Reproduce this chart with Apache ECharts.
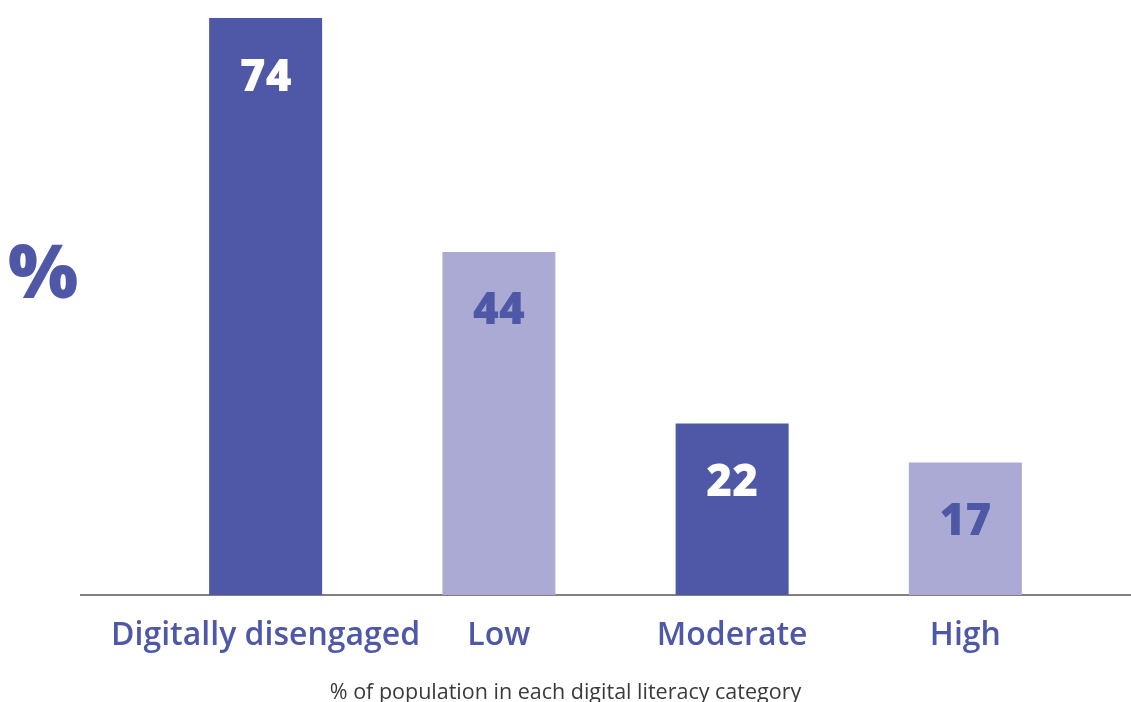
<!DOCTYPE html>
<html>
<head>
<meta charset="utf-8">
<script src="https://cdn.jsdelivr.net/npm/echarts@6/dist/echarts.min.js"></script>
<style>
  html, body { margin: 0; padding: 0; background: #ffffff; }
  #chart { width: 1131px; height: 702px; }
</style>
</head>
<body>
<div id="chart"></div>
<script>
// Digital literacy categories and share of population in each
const categories = ['Digitally disengaged', 'Low', 'Moderate', 'High'];
const values = [74, 44, 22, 17];
const barColors = ['#4f58a6', '#abaad5', '#4f58a6', '#abaad5'];
const labelColors = ['#ffffff', '#4f58a6', '#ffffff', '#4f58a6'];
const unitLabel = '%';
const caption = '% of population in each digital literacy category';

const chart = echarts.init(document.getElementById('chart'), null, { renderer: 'canvas' });

const option = {
  backgroundColor: '#ffffff',
  animation: false,
  grid: { left: 149, right: 49, top: 18, bottom: 107 },
  xAxis: {
    type: 'category',
    data: categories,
    axisLine: { show: false },
    axisTick: { show: false },
    axisLabel: {
      interval: 0,
      color: '#4f58a6',
      fontFamily: 'Open Sans',
      fontWeight: 600,
      fontSize: 32,
      margin: 25
    }
  },
  yAxis: {
    type: 'value',
    min: 0,
    max: 74,
    show: false,
    splitLine: { show: false }
  },
  series: [{
    type: 'bar',
    barWidth: 113,
    data: values.map((v, i) => ({
      value: v,
      itemStyle: { color: barColors[i] },
      label: { color: labelColors[i] }
    })),
    label: {
      show: true,
      position: ['50%', 60],
      align: 'center',
      verticalAlign: 'middle',
      fontFamily: 'Open Sans',
      fontWeight: 800,
      fontSize: 44
    }
  }],
  graphic: [
    {
      type: 'line',
      shape: { x1: 80, y1: 595, x2: 1131, y2: 595 },
      style: { stroke: '#7f7f84', lineWidth: 2 }
    },
    {
      type: 'text',
      left: 8,
      top: 240,
      style: {
        text: unitLabel,
        fill: '#4f58a6',
        font: '800 74px "Open Sans"'
      }
    },
    {
      type: 'text',
      left: 'center',
      top: 682,
      style: {
        text: caption,
        fill: '#3a3a3a',
        font: '400 21.5px "Open Sans"'
      }
    }
  ]
};

chart.setOption(option);
</script>
</body>
</html>
